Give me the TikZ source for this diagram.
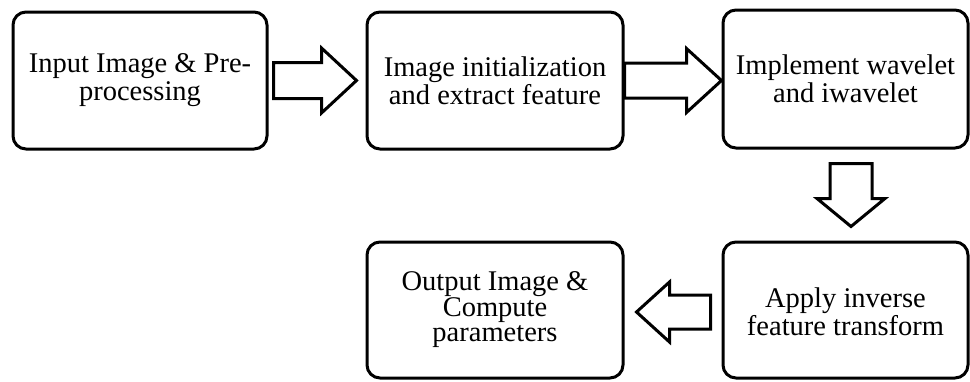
\documentclass[tikz,border=0pt]{standalone}
\usepackage{fontspec}
\setmainfont{Liberation Serif}
\usetikzlibrary{calc}
\tikzset{
  stepbox/.style={draw=black, line width=3pt, rounded corners=13pt, fill=white,
    align=center, inner sep=0pt, font=\fontsize{28.5}{28}\selectfont},
  barrow/.style={draw=black, line width=3pt, fill=white, line join=miter},
}
\begin{document}
\begin{tikzpicture}[x=1pt,y=-1pt]
\useasboundingbox (0,0) rectangle (970,381);
\fill[white] (0,0) rectangle (970,381);
% boxes
\draw[stepbox] (13,12) rectangle (267,149);
\node[stepbox, draw=none, fill=none, minimum width=254pt, minimum height=137pt] (b1) at (140,80.5) {Input Image \& Pre-\\processing};
\draw[stepbox] (367,12) rectangle (623,149);
\node[stepbox, draw=none, fill=none, minimum width=256pt, minimum height=137pt] (b2) at (495,80.5) {Image initialization\\and extract feature};
\draw[stepbox] (723,10) rectangle (968,148);
\node[stepbox, draw=none, fill=none, minimum width=245pt, minimum height=138pt] (b3) at (845.5,79) {Implement wavelet\\and iwavelet};
\draw[stepbox] (723,242) rectangle (968,378);
\node[stepbox, draw=none, fill=none, minimum width=245pt, minimum height=136pt] (b4) at (845.5,312) {Apply inverse\\feature transform};
\draw[stepbox] (367,242) rectangle (623,378);
\node[stepbox, draw=none, fill=none, minimum width=256pt, minimum height=136pt, font=\fontsize{28.5}{25}\selectfont] (b5) at (495,310) {Output Image \&\\Compute\\parameters};
% block arrows (right)
\draw[barrow] let \p1=($(b1.east)+(5,0)$), \p2=($(b2.west)+(-9,0)$) in
  (\x1,\y1+18pt) -- (\x2-35pt,\y1+18pt) -- (\x2-35pt,\y1+32.5pt) -- (\x2,\y1)
  -- (\x2-35pt,\y1-32.5pt) -- (\x2-35pt,\y1-18pt) -- (\x1,\y1-18pt) -- cycle;
\draw[barrow] let \p1=($(b2.east)+(0,0)$), \p2=($(b3.west)+(0,0)$) in
  (\x1,\y1+17.5pt) -- (\x2-35pt,\y1+17.5pt) -- (\x2-35pt,\y1+32pt) -- (\x2,\y1)
  -- (\x2-35pt,\y1-32pt) -- (\x2-35pt,\y1-17.5pt) -- (\x1,\y1-17.5pt) -- cycle;
% down arrow
\draw[barrow] let \p1=($(b3.south)+(5.5,14)$), \p2=($(b4.north)+(5.5,-16)$) in
  (\x1-21pt,\y1) -- (\x1-21pt,\y2+28pt) -- (\x1-34pt,\y2+28pt) -- (\x1,\y2)
  -- (\x1+34pt,\y2+28pt) -- (\x1+21pt,\y2+28pt) -- (\x1+21pt,\y1) -- cycle;
% left arrow
\draw[barrow] let \p1=($(b4.west)+(-11,0)$), \p2=($(b5.east)+(12,0)$) in
  (\x1,\y1+17pt) -- (\x2+33pt,\y1+17pt) -- (\x2+33pt,\y1+30pt) -- (\x2,\y1)
  -- (\x2+33pt,\y1-30pt) -- (\x2+33pt,\y1-17pt) -- (\x1,\y1-17pt) -- cycle;
\end{tikzpicture}
\end{document}
